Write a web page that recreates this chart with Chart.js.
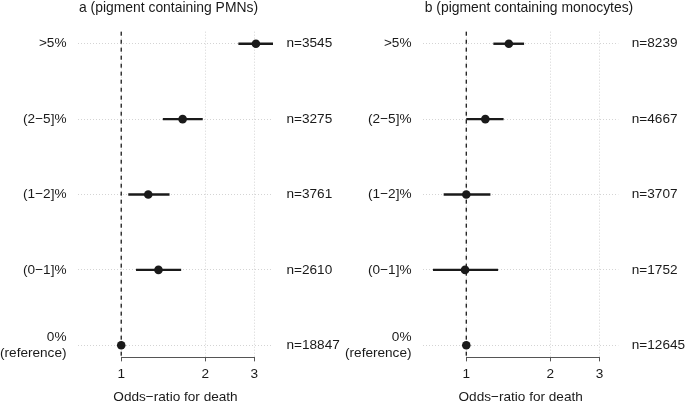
<!DOCTYPE html>
<html>
<head>
<meta charset="utf-8">
<script src="https://cdn.jsdelivr.net/npm/chart.js@4.4.1/dist/chart.umd.min.js"></script>
<style>
  html, body { margin: 0; padding: 0; background: #fff; overflow: hidden; }
  #wrap { position: relative; width: 685px; height: 405px; overflow: hidden; }
  canvas { position: absolute; top: 0; }
  /* canvases are offset so each title sits where the reference has it */
  #chart-a { left: -5px; }
  #chart-b { left: 342px; }
</style>
</head>
<body>
<div id="wrap">
  <canvas id="chart-a" width="347" height="405"></canvas>
  <canvas id="chart-b" width="374" height="405"></canvas>
</div>
<script>
// rows top to bottom
const rowLabels = ['>5%', '(2−5]%', '(1−2]%', '(0−1]%', ['0%', '(reference)']];
const xTicks = [1, 2, 3];
const referenceOR = 1;

// a: pigment containing PMNs
const pmnN = [3545, 3275, 3761, 2610, 18847];
const pmnOR = [3.04, 1.66, 1.25, 1.36, 1];
const pmnLo = [2.63, 1.41, 1.06, 1.13, null];
const pmnHi = [3.5, 1.96, 1.49, 1.64, null];

// b: pigment containing monocytes
const monoN = [8239, 4667, 3707, 1752, 12645];
const monoOR = [1.42, 1.17, 1.0, 0.99, 1];
const monoLo = [1.25, 1.0, 0.83, 0.76, null];
const monoHi = [1.61, 1.36, 1.22, 1.30, null];

const INK = '#1a1a1a';
const FONT_SIZE = 13.6;

Chart.defaults.font.family = "'Liberation Sans', Arial, Helvetica, sans-serif";
Chart.defaults.font.size = FONT_SIZE;
Chart.defaults.color = INK;

const forestDecor = {
  id: 'forestDecor',
  beforeDatasetsDraw(chart) {
    const { ctx, chartArea, scales: { x } } = chart;
    const px = x.getPixelForValue(referenceOR);
    ctx.save();
    ctx.strokeStyle = INK;
    ctx.lineWidth = 1.3;
    ctx.setLineDash([4, 4]);
    ctx.beginPath();
    ctx.moveTo(px, chartArea.top);
    ctx.lineTo(px, chartArea.bottom);
    ctx.stroke();
    ctx.restore();
  },
  afterDraw(chart) {
    // axis line only spans first..last tick, like base R
    const { ctx, chartArea, scales: { x } } = chart;
    const y = Math.round(chartArea.bottom) + 0.5;
    ctx.save();
    ctx.strokeStyle = '#555';
    ctx.lineWidth = 1;
    ctx.beginPath();
    ctx.moveTo(x.getPixelForValue(xTicks[0]), y);
    ctx.lineTo(x.getPixelForValue(xTicks[xTicks.length - 1]), y);
    ctx.stroke();
    ctx.restore();
  }
};

function rowTicks(scale) {
  scale.ticks = rowLabels.map((_, i) => ({ value: i }));
}

function makePanel(id, title, or, lo, hi, n, box) {
  const ciSets = [];
  lo.forEach((l, i) => {
    if (l === null) return;
    ciSets.push({
      data: [{ x: l, y: i }, { x: hi[i], y: i }],
      showLine: true,
      borderColor: INK,
      borderWidth: 2.4,
      pointRadius: 0,
      clip: false
    });
  });

  return new Chart(document.getElementById(id), {
    type: 'scatter',
    data: {
      datasets: [
        {
          data: or.map((v, i) => ({ x: v, y: i })),
          pointRadius: 4.3,
          pointBackgroundColor: INK,
          pointBorderWidth: 0
        },
        ...ciSets
      ]
    },
    plugins: [forestDecor],
    options: {
      responsive: false,
      animation: false,
      layout: { padding: 0 },
      plugins: {
        legend: { display: false },
        tooltip: { enabled: false },
        title: {
          display: true,
          text: title,
          color: INK,
          font: { size: 13.9, weight: 'normal' },
          padding: { top: 0, bottom: 15 }
        }
      },
      scales: {
        x: {
          type: 'logarithmic',
          min: 0.725,
          max: 3.5,
          afterBuildTicks: s => { s.ticks = xTicks.map(v => ({ value: v })); },
          ticks: { padding: 5, autoSkip: false, maxRotation: 0, callback: v => String(v) },
          grid: {
            color: '#d4d4d4',
            tickLength: 4,
            tickColor: '#555',
            tickWidth: 1,
            tickBorderDash: []
          },
          border: { display: false, dash: [1, 2] },
          title: {
            display: true,
            text: 'Odds−ratio for death',
            color: INK,
            padding: { top: 1, bottom: 0 }
          }
        },
        y: {
          type: 'linear',
          reverse: true,
          min: -0.16,
          max: 4.16,
          afterBuildTicks: rowTicks,
          afterFit: s => { s.width = box.yWidth; },
          ticks: {
            padding: 11.5,
            autoSkip: false,
            font: { size: FONT_SIZE, lineHeight: 1.12 },
            callback: v => rowLabels[v]
          },
          grid: { color: '#d4d4d4', drawTicks: false },
          border: { display: false, dash: [1, 2] }
        },
        y2: {
          type: 'linear',
          position: 'right',
          reverse: true,
          min: -0.16,
          max: 4.16,
          afterBuildTicks: rowTicks,
          afterFit: s => { s.width = box.y2Width; },
          ticks: { padding: 13.5, autoSkip: false, callback: v => 'n=' + n[v] },
          grid: { display: false, drawTicks: false },
          border: { display: false }
        }
      }
    }
  });
}

makePanel('chart-a', 'a (pigment containing PMNs)', pmnOR, pmnLo, pmnHi, pmnN,
  { yWidth: 83, y2Width: 69 });
makePanel('chart-b', 'b (pigment containing monocytes)', monoOR, monoLo, monoHi, monoN,
  { yWidth: 81, y2Width: 97.7 });
</script>
</body>
</html>
